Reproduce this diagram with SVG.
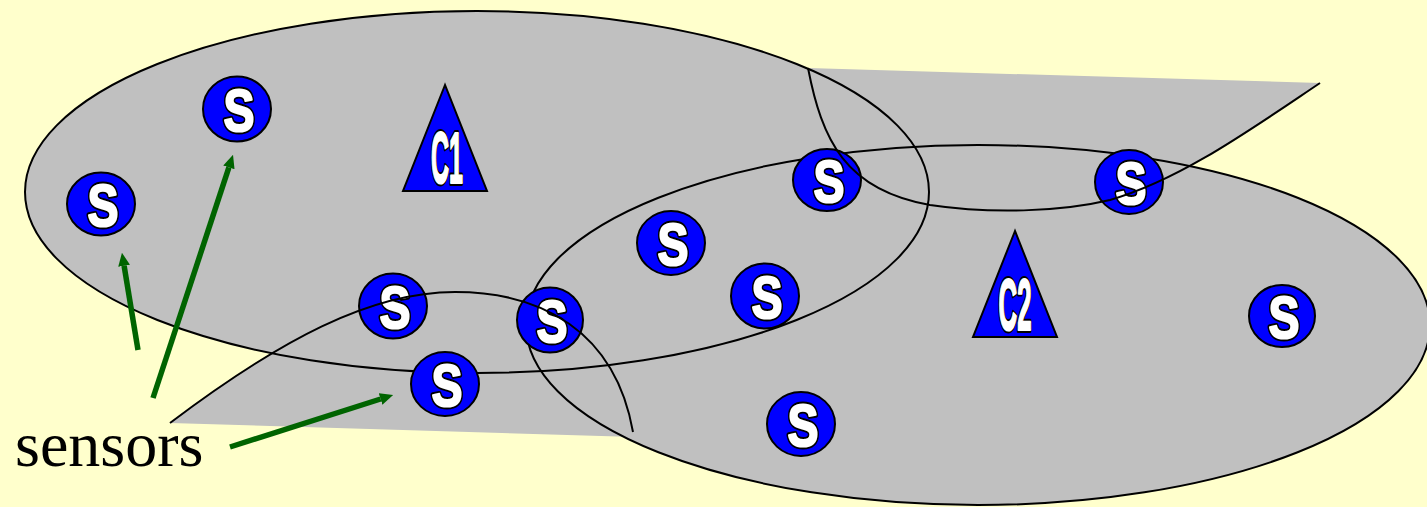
<svg xmlns="http://www.w3.org/2000/svg" width="1427" height="507" viewBox="0 0 1427 507">
<defs>
<style>
.bg{fill:#FFFFCC}
.area{fill:#C0C0C0;stroke:none}
.edge{fill:none;stroke:#000;stroke-width:2}
.sn{fill:#0000FF;stroke:#000;stroke-width:2}
.sl,.slo{font-family:"Liberation Sans",Arial,sans-serif;font-weight:bold;font-size:60px;text-anchor:middle}
.cl,.clo{font-family:"Liberation Sans",Arial,sans-serif;font-weight:bold;font-size:72px;text-anchor:middle}
.slo,.clo{fill:#000;stroke:#000;stroke-width:6;stroke-linejoin:round}
.sl,.cl{fill:#fff;stroke:#fff;stroke-width:2.2;stroke-linejoin:round}
.arr{fill:none;stroke:#006400;stroke-width:5.5;marker-end:url(#ah)}
.lbl{font-family:"Liberation Serif","Times New Roman",serif;font-size:64px;fill:#000}
</style>
<marker id="ah" viewBox="0 0 10 10" refX="0" refY="5" markerWidth="2.4" markerHeight="2.4" orient="auto">
<path d="M0,0.5 L10,5 L0,9.5 z" fill="#006400"/>
</marker>
</defs>
<rect class="bg" x="0" y="0" width="1427" height="507"/>
<g id="regions">
<path class="area" d="M170,423 C280,340 370,292 455,292 L808,68 L1320,83 C1250,130 1180,180 1110,200 L635,437 Z"/>
<ellipse class="area" cx="477" cy="192" rx="452" ry="181"/>
<ellipse class="area" cx="978" cy="325" rx="452" ry="180"/>
<ellipse class="edge" cx="477" cy="192" rx="452" ry="181"/>
<ellipse class="edge" cx="978" cy="325" rx="452" ry="180"/>
</g>
<g id="C1"><polygon class="sn" points="445,85 403,191 487,191"/><text class="clo" x="447" y="183" textLength="32" lengthAdjust="spacingAndGlyphs">C1</text><text class="cl" x="447" y="183" textLength="32" lengthAdjust="spacingAndGlyphs">C1</text></g>
<g id="C2"><polygon class="sn" points="1015,231 973,337 1057,337"/><text class="clo" x="1015" y="330" textLength="33" lengthAdjust="spacingAndGlyphs">C2</text><text class="cl" x="1015" y="330" textLength="33" lengthAdjust="spacingAndGlyphs">C2</text></g>
<g id="s1"><ellipse class="sn" cx="237" cy="109" rx="34" ry="32.5"/><text class="slo" x="239" y="131" textLength="31" lengthAdjust="spacingAndGlyphs">S</text><text class="sl" x="239" y="131" textLength="31" lengthAdjust="spacingAndGlyphs">S</text></g>
<g id="s2"><ellipse class="sn" cx="101" cy="204" rx="34" ry="31.5"/><text class="slo" x="103" y="226" textLength="31" lengthAdjust="spacingAndGlyphs">S</text><text class="sl" x="103" y="226" textLength="31" lengthAdjust="spacingAndGlyphs">S</text></g>
<g id="s3"><ellipse class="sn" cx="393" cy="306" rx="34" ry="32.5"/><text class="slo" x="395" y="328" textLength="31" lengthAdjust="spacingAndGlyphs">S</text><text class="sl" x="395" y="328" textLength="31" lengthAdjust="spacingAndGlyphs">S</text></g>
<g id="s4"><ellipse class="sn" cx="550" cy="320" rx="33" ry="32.5"/><text class="slo" x="552" y="342" textLength="31" lengthAdjust="spacingAndGlyphs">S</text><text class="sl" x="552" y="342" textLength="31" lengthAdjust="spacingAndGlyphs">S</text></g>
<g id="s5"><ellipse class="sn" cx="445" cy="384" rx="34" ry="32"/><text class="slo" x="447" y="406" textLength="31" lengthAdjust="spacingAndGlyphs">S</text><text class="sl" x="447" y="406" textLength="31" lengthAdjust="spacingAndGlyphs">S</text></g>
<g id="s6"><ellipse class="sn" cx="671" cy="243" rx="34" ry="32"/><text class="slo" x="673" y="265" textLength="31" lengthAdjust="spacingAndGlyphs">S</text><text class="sl" x="673" y="265" textLength="31" lengthAdjust="spacingAndGlyphs">S</text></g>
<g id="s7"><ellipse class="sn" cx="765" cy="296" rx="34" ry="32.5"/><text class="slo" x="767" y="318" textLength="31" lengthAdjust="spacingAndGlyphs">S</text><text class="sl" x="767" y="318" textLength="31" lengthAdjust="spacingAndGlyphs">S</text></g>
<g id="s8"><ellipse class="sn" cx="827" cy="180" rx="34" ry="31"/><text class="slo" x="829" y="202" textLength="31" lengthAdjust="spacingAndGlyphs">S</text><text class="sl" x="829" y="202" textLength="31" lengthAdjust="spacingAndGlyphs">S</text></g>
<g id="s9"><ellipse class="sn" cx="1129" cy="182" rx="34" ry="32"/><text class="slo" x="1131" y="204" textLength="31" lengthAdjust="spacingAndGlyphs">S</text><text class="sl" x="1131" y="204" textLength="31" lengthAdjust="spacingAndGlyphs">S</text></g>
<g id="s10"><ellipse class="sn" cx="1282" cy="316" rx="33" ry="31"/><text class="slo" x="1284" y="338" textLength="31" lengthAdjust="spacingAndGlyphs">S</text><text class="sl" x="1284" y="338" textLength="31" lengthAdjust="spacingAndGlyphs">S</text></g>
<g id="s11"><ellipse class="sn" cx="801" cy="424" rx="34" ry="32"/><text class="slo" x="803" y="446" textLength="31" lengthAdjust="spacingAndGlyphs">S</text><text class="sl" x="803" y="446" textLength="31" lengthAdjust="spacingAndGlyphs">S</text></g>
<g id="band-edges">
<path class="edge" d="M170,423 C280,340 370,292 455,292 C540,292 615,330 633,432"/>
<path class="edge" d="M808,68 C822,140 845,190 930,205 C990,214 1060,212 1110,200 C1180,180 1250,130 1320,83"/>
</g>
<g id="connectors">
<line class="arr" x1="138" y1="350" x2="124.1" y2="265.8"/>
<line class="arr" x1="153" y1="398" x2="228.9" y2="167.4"/>
<line class="arr" x1="230" y1="447" x2="380.6" y2="399"/>
</g>
<g id="sensors-label"><text class="lbl" x="15" y="466">sensors</text></g>
</svg>
